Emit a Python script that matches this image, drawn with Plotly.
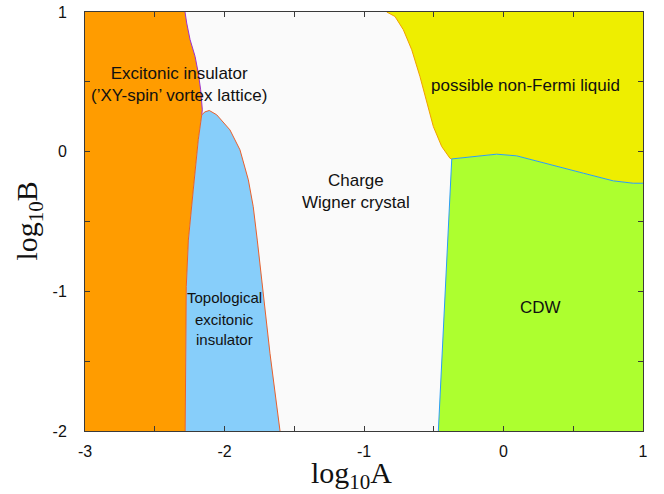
import plotly.graph_objects as go

# ---- data ----
# orange / white boundary (top edge down to the blue tip)
orange_top_A = [-2.283, -2.271, -2.247, -2.211, -2.188, -2.171, -2.159, -2.163]
orange_top_B = [1.0, 0.921, 0.803, 0.682, 0.563, 0.443, 0.300, 0.264]
# orange / blue boundary (from the blue tip down to the bottom)
blue_left_A = [-2.163, -2.188, -2.224, -2.259, -2.274, -2.279, -2.282]
blue_left_B = [0.264, 0.085, -0.274, -0.633, -0.967, -1.444, -2.0]
# blue / white boundary (from the blue tip down to the bottom)
blue_right_A = [-2.163, -2.140, -2.109, -2.056, -1.961, -1.889, -1.829, -1.794,
                -1.765, -1.734, -1.674, -1.602]
blue_right_B = [0.264, 0.285, 0.295, 0.264, 0.156, 0.013, -0.202, -0.394,
                -0.633, -0.895, -1.444, -2.0]
# yellow / white boundary
yellow_A = [-0.837, -0.778, -0.718, -0.658, -0.599, -0.551, -0.503, -0.443, -0.384, -0.371]
yellow_B = [1.0, 0.968, 0.873, 0.730, 0.538, 0.348, 0.180, 0.037, -0.047, -0.052]
# yellow / green boundary
green_top_A = [-0.371, -0.216, -0.049, 0.095, 0.333, 0.572, 0.787, 0.930, 1.0]
green_top_B = [-0.052, -0.035, -0.018, -0.030, -0.094, -0.154, -0.209, -0.226, -0.226]
# green / white boundary
green_left_A = [-0.371, -0.467]
green_left_B = [-0.052, -2.0]

A_min, A_max = -3.0, 1.0
B_min, B_max = -2.0, 1.0

x_tickvals = [-3, -2.5, -2, -1.5, -1, -0.5, 0, 0.5, 1]
x_ticktext = ["-3", "", "-2", "", "-1", "", "0", "", "1"]
y_tickvals = [-2, -1.5, -1, -0.5, 0, 0.5, 1]
y_ticktext = ["-2", "", "-1", "", "0", "", "1"]

x_title = "log<sub>10</sub>A"
y_title = "log<sub>10</sub>B"

labels = [
    ("Excitonic insulator<br>(\u2019XY-spin\u2019 vortex lattice)", -2.323, 0.479, 17),
    ("Charge<br>Wigner crystal", -1.057, -0.288, 17),
    ("possible non-Fermi liquid", 0.156, 0.472, 17),
    ("Topological", -2.0, -1.043, 15),
    ("excitonic", -2.0, -1.199, 15),
    ("insulator", -2.0, -1.344, 15),
    ("CDW", 0.262, -1.115, 17),
]

fig = go.Figure()

# ---- filled regions ----
orange_x = [A_min] + orange_top_A + blue_left_A[1:] + [A_min]
orange_y = [B_max] + orange_top_B + blue_left_B[1:] + [B_min]
fig.add_trace(go.Scatter(x=orange_x, y=orange_y, fill="toself", fillcolor="#FF9C00",
                         mode="lines", line=dict(width=0), hoverinfo="skip"))

blue_x = blue_left_A[::-1] + blue_right_A[1:]
blue_y = blue_left_B[::-1] + blue_right_B[1:]
fig.add_trace(go.Scatter(x=blue_x, y=blue_y, fill="toself", fillcolor="#87CEFA",
                         mode="lines", line=dict(width=0), hoverinfo="skip"))

yellow_x = yellow_A + green_top_A[1:] + [A_max, yellow_A[0]]
yellow_y = yellow_B + green_top_B[1:] + [B_max, B_max]
fig.add_trace(go.Scatter(x=yellow_x, y=yellow_y, fill="toself", fillcolor="#EEEE00",
                         mode="lines", line=dict(width=0), hoverinfo="skip"))

green_x = green_top_A + [A_max, green_left_A[1]]
green_y = green_top_B + [B_min, green_left_B[1]]
fig.add_trace(go.Scatter(x=green_x, y=green_y, fill="toself", fillcolor="#ADFF2F",
                         mode="lines", line=dict(width=0), hoverinfo="skip"))

# ---- boundary lines ----
fig.add_trace(go.Scatter(x=orange_top_A, y=orange_top_B, mode="lines",
                         line=dict(color="#9B30D0", width=1), hoverinfo="skip"))
fig.add_trace(go.Scatter(x=blue_left_A, y=blue_left_B, mode="lines",
                         line=dict(color="#E8602C", width=1), hoverinfo="skip"))
fig.add_trace(go.Scatter(x=blue_right_A, y=blue_right_B, mode="lines",
                         line=dict(color="#E8602C", width=1), hoverinfo="skip"))
fig.add_trace(go.Scatter(x=yellow_A, y=yellow_B, mode="lines",
                         line=dict(color="#F0A000", width=1), hoverinfo="skip"))
fig.add_trace(go.Scatter(x=green_top_A, y=green_top_B, mode="lines",
                         line=dict(color="#2A9DF4", width=1), hoverinfo="skip"))
fig.add_trace(go.Scatter(x=green_left_A, y=green_left_B, mode="lines",
                         line=dict(color="#2A9DF4", width=1), hoverinfo="skip"))

for text, ax_, ay_, sz in labels:
    fig.add_annotation(x=ax_, y=ay_, text=text, showarrow=False,
                       font=dict(family="Liberation Sans, Arial", size=sz, color="#111111"),
                       xanchor="center", yanchor="middle")

title_font = dict(family="Liberation Serif, Times New Roman", size=30, color="#111111")
fig.add_annotation(xref="paper", yref="paper", x=0.478, y=0, text=x_title,
                   showarrow=False, font=title_font, xanchor="center", yanchor="top",
                   yshift=-23)
fig.add_annotation(xref="paper", yref="paper", x=0, y=0.5, text=y_title,
                   showarrow=False, font=title_font, xanchor="center", yanchor="middle",
                   textangle=-90, xshift=-57)

axis_common = dict(showline=True, mirror="ticks", linecolor="#3a3a3a", linewidth=1,
                   ticks="inside", ticklen=5, tickcolor="#3a3a3a", tickwidth=1,
                   showgrid=False, zeroline=False, automargin=False,
                   ticklabeloverflow="allow",
                   tickfont=dict(family="Liberation Sans, Arial", size=16, color="#111111"))

fig.update_layout(
    width=664, height=494,
    margin=dict(l=85, r=21, t=12, b=63),
    paper_bgcolor="white", plot_bgcolor="#FAFAFA",
    showlegend=False,
    xaxis=dict(range=[A_min, A_max], tickvals=x_tickvals, ticktext=x_ticktext,
               ticklabelstandoff=6, **axis_common),
    yaxis=dict(range=[B_min, B_max], tickvals=y_tickvals, ticktext=y_ticktext,
               ticklabelstandoff=14, **axis_common),
)

# remove the browser's default 8px body margin so the figure fills the window
fig.write_html("out.html", config={"displayModeBar": False},
               post_script="document.body.style.margin='0';")
